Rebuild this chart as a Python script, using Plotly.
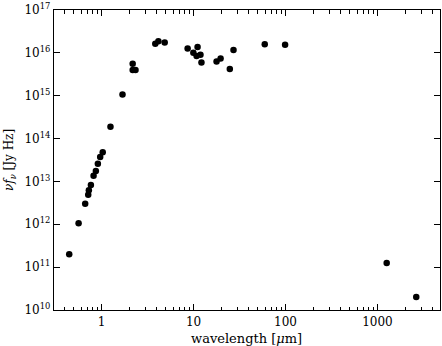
import plotly.graph_objects as go

# wavelength in micron
wavelength = [0.445, 0.563, 0.664, 0.716, 0.728, 0.766, 0.819, 0.867, 0.912, 0.966, 1.03,
              1.25, 1.69, 2.18, 2.18, 2.34, 3.84, 4.15, 4.86, 8.63, 9.96, 10.8, 11.07,
              11.9, 12.2, 17.8, 19.7, 24.8, 27.2, 59.5, 99.0, 1260.0, 2640.0]
# nu f_nu in Jy Hz
nufnu = [2.0e11, 1.05e12, 3.0e12, 4.9e12, 6.2e12, 8.3e12, 1.35e13, 1.74e13, 2.57e13, 3.7e13, 4.8e13,
         1.9e14, 1.07e15, 5.6e15, 4.0e15, 4.0e15, 1.64e16, 1.86e16, 1.74e16, 1.26e16, 1.0e16, 8.5e15, 1.38e16,
         9.1e15, 6.0e15, 6.3e15, 7.4e15, 4.2e15, 1.17e16, 1.58e16, 1.55e16, 1.24e11, 2.0e10]

x_major = [1, 10, 100, 1000]
x_major_text = ["1", "10", "100", "1000"]
y_major = [1e10, 1e11, 1e12, 1e13, 1e14, 1e15, 1e16, 1e17]
y_major_text = ["10<sup>%d</sup>" % p for p in range(10, 18)]

x_minor = [m * 10.0 ** d for d in range(-1, 4) for m in range(2, 10)]
x_minor = [v for v in x_minor if 0.3 <= v <= 4800]

FONT = "DejaVu Serif"

fig = go.Figure()
fig.add_trace(go.Scatter(
    x=wavelength, y=nufnu, mode="markers",
    marker=dict(color="black", size=6.5, line=dict(width=0)),
    showlegend=False, hoverinfo="skip",
))

fig.update_layout(
    width=442, height=346,
    margin=dict(l=54, r=1, t=7, b=36),
    paper_bgcolor="white", plot_bgcolor="white",
    font=dict(family=FONT, size=12, color="black"),
    xaxis=dict(
        type="log", range=[-0.517, 3.68],
        showgrid=False, zeroline=False,
        showline=True, linecolor="black", linewidth=1.2, mirror="ticks",
        ticks="inside", ticklen=6, tickwidth=1, tickcolor="black",
        tickvals=x_major, ticktext=x_major_text,
        tickfont=dict(family=FONT, size=12),
        ticklabeloverflow="allow",
        minor=dict(tickvals=x_minor, ticks="inside", ticklen=3.5, tickwidth=1,
                   tickcolor="black", showgrid=False),
    ),
    yaxis=dict(
        type="log", range=[9.9995, 17.0005],
        showgrid=False, zeroline=False,
        showline=True, linecolor="black", linewidth=1.2, mirror="ticks",
        ticks="inside", ticklen=6, tickwidth=1, tickcolor="black",
        tickvals=y_major, ticktext=y_major_text,
        tickfont=dict(family=FONT, size=12),
        ticklabeloverflow="allow",
    ),
    annotations=[
        dict(text="wavelength [<i>μ</i>m]", xref="paper", yref="paper",
             x=(247 - 54) / 387, y=(310 - 339) / 303, xanchor="center", yanchor="middle",
             showarrow=False, font=dict(family=FONT, size=13)),
        dict(text="<i>νf</i><sub><i>ν</i></sub> [Jy Hz]", xref="paper", yref="paper",
             x=(10 - 54) / 387, y=0.5, xanchor="center", yanchor="middle",
             textangle=-90, showarrow=False, font=dict(family=FONT, size=12)),
    ],
)

html = fig.to_html(include_plotlyjs=True, full_html=True,
                   config={"displayModeBar": False, "staticPlot": True})
html = html.replace("<head>", "<head><style>html,body{margin:0;padding:0;overflow:hidden;}</style>", 1)
with open("out.html", "w", encoding="utf-8") as f:
    f.write(html)
